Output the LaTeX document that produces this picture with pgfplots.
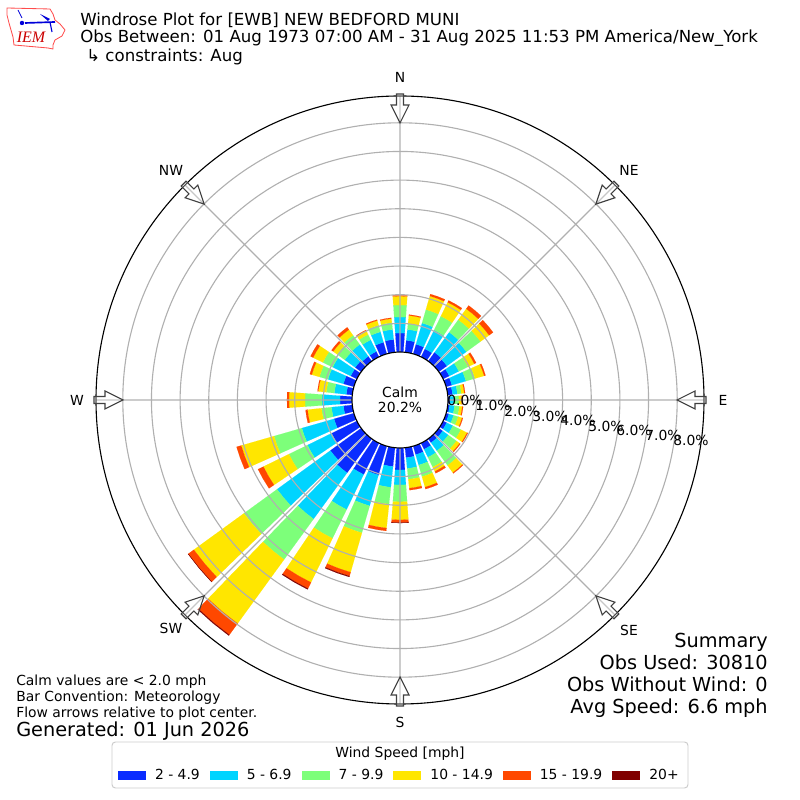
\documentclass[border=0pt]{standalone}
\usepackage{pgfplots}
\usepackage{pgfplotstable}
\usepackage{fontspec}
\pgfplotsset{compat=1.18}
\usepgfplotslibrary{polar}
\setmainfont{DejaVu Sans}
\newfontfamily\logofont{Liberation Serif}
\definecolor{c1}{HTML}{0A2CFF}
\definecolor{c2}{HTML}{00D4FF}
\definecolor{c3}{HTML}{7DFF7A}
\definecolor{c4}{HTML}{FFE600}
\definecolor{c5}{HTML}{FF4800}
\definecolor{c6}{HTML}{800000}
\definecolor{gridgray}{HTML}{B0B0B0}
\pgfplotstableread{
dir s1 s2 s3 s4 s5 s6
10 0.42 0.38 0.21 0.28 0.03 0
20 0.35 0.77 0.49 0.49 0.07 0
30 0.31 0.73 0.54 0.54 0.07 0
40 0.38 0.87 0.54 0.47 0.14 0
50 0.35 0.84 0.61 0.37 0.17 0
60 0.24 0.37 0.36 0.24 0.07 0
70 0.21 0.51 0.33 0.33 0.05 0
80 0.17 0.17 0.14 0.10 0.03 0
90 0.07 0.14 0.17 0.10 0.03 0
100 0.07 0.17 0.17 0.10 0.03 0
110 0.10 0.17 0.17 0.14 0.03 0
120 0.14 0.24 0.31 0.24 0.03 0
130 0.17 0.24 0.35 0.14 0.03 0
140 0.17 0.35 0.63 0.31 0.03 0
150 0.24 0.31 0.38 0.17 0.07 0
160 0.31 0.38 0.42 0.38 0.07 0
170 0.35 0.38 0.38 0.31 0.07 0
180 0.77 0.52 0.59 0.63 0.10 0.01
190 0.66 0.73 0.59 0.84 0.10 0
200 1.05 1.12 0.98 1.43 0.14 0.03
210 1.22 1.36 1.12 1.71 0.24 0.03
220 1.47 1.99 1.75 2.76 0.49 0.03
230 1.33 2.30 1.43 2.16 0.24 0.01
240 0.98 0.94 0.72 0.99 0.21 0
250 0.72 1.17 1.01 1.19 0.17 0
260 0.31 0.42 0.35 0.49 0.07 0
270 0.42 0.63 0.59 0.56 0.07 0
280 0.21 0.42 0.28 0.28 0.03 0
290 0.38 0.56 0.31 0.28 0.07 0
300 0.24 0.70 0.38 0.38 0.10 0
310 0.26 0.45 0.33 0.17 0.07 0
320 0.21 0.51 0.40 0.24 0.10 0
330 0.21 0.45 0.21 0.14 0.03 0
340 0.42 0.38 0.24 0.17 0.03 0
350 0.45 0.35 0.24 0.14 0.03 0
360 0.66 0.56 0.42 0.31 0.03 0
}\windtable
% one stacked wedge: direction, inner and outer radius, colour
\newcommand\windwedge[4]{%
  \pgfmathsetmacro\wa{90-#1-4}%
  \pgfmathsetmacro\wm{90-#1}%
  \pgfmathsetmacro\wb{90-#1+4}%
  \edef\wtemp{\noexpand\addplot[fill=#4,draw=#4,line width=0.05pt,forget plot] coordinates {(\wa,#2)(\wm,#2)(\wb,#2)(\wb,#3)(\wm,#3)(\wa,#3)} -- cycle;}%
  \wtemp}
\newcommand\fs[1]{\fontsize{#1bp}{#1bp}\selectfont}
\newcommand\arrowat[1]{%
  \begin{scope}[shift={(400,400)},rotate=-#1]
    \draw[draw=black!75,line width=0.8bp,fill=white,fill opacity=0.3,line join=miter]
      (-3.5,306)--(3.5,306)--(3.5,295)--(9,295)--(0,277)--(-9,295)--(-3.5,295)--cycle;
  \end{scope}}
\begin{document}
\begin{tikzpicture}[x=0.72bp,y=0.72bp]
\path[use as bounding box] (0,0) rectangle (800,800);
\draw[rounded corners=2.5bp,draw=black!20,line width=0.7bp,fill=white] (112,12) rectangle (688,58);
\begin{polaraxis}[
  at={(288bp,288bp)},anchor=center,
  scale only axis,width=437.76bp,height=437.76bp,
  xmin=0,xmax=360,ymin=0,ymax=10.611,
  xtick={0,45,...,315},xticklabels={},
  ytick={2.6754,3.6754,4.6754,5.6754,6.6754,7.6754,8.6754,9.6754},yticklabels={},
  xmajorgrids,ymajorgrids,
  grid style={gridgray,line width=0.8bp},
  major tick length=0pt,
  axis line style={black,line width=0.8bp},
  y axis line style={draw=none},
  axis on top,clip=false,
  legend cell align=left,
  legend columns=6,
  legend image code/.code={\path[#1,draw=none] (0bp,-3.24bp) rectangle (20.16bp,3.24bp);},
  legend style={at={(0.0362,-0.1168)},anchor=west,draw=none,fill=none,inner sep=0pt,outer sep=0pt,
    font=\fs{10},
    /tikz/every odd column/.append style={column sep=6.5bp},
    /tikz/every even column/.append style={column sep=7.2bp},
    nodes={inner xsep=0pt,inner ysep=0pt}},
]
\pgfplotsforeachungrouped \wrow in {0,...,35}{%
  \pgfplotstablegetelem{\wrow}{dir}\of\windtable
  \let\wdir\pgfplotsretval
  \def\wcum{1.6754}%
  \pgfplotsforeachungrouped \wk in {1,...,6}{%
    \pgfplotstablegetelem{\wrow}{s\wk}\of\windtable
    \let\wval\pgfplotsretval
    \ifdim\wval pt>0pt
      \pgfmathsetmacro\wnext{\wcum+\wval}%
      \windwedge{\wdir}{\wcum}{\wnext}{c\wk}%
      \let\wcum\wnext
    \fi
  }%
}
\addlegendimage{fill=c1}\addlegendentry{2 - 4.9}
\addlegendimage{fill=c2}\addlegendentry{5 - 6.9}
\addlegendimage{fill=c3}\addlegendentry{7 - 9.9}
\addlegendimage{fill=c4}\addlegendentry{10 - 14.9}
\addlegendimage{fill=c5}\addlegendentry{15 - 19.9}
\addlegendimage{fill=c6}\addlegendentry{20+}
\end{polaraxis}
\draw[black,line width=0.8bp,fill=white] (400,400) circle (48);
\foreach \a in {0,45,...,315}{\arrowat{\a}}
% direction labels
\begin{scope}[every node/.style={font=\fs{10},inner sep=0pt}]
\node at (400,723) {N};
\node at (629,630) {NE};
\node at (723,400) {E};
\node at (629,170) {SE};
\node at (400,78) {S};
\node at (171,172) {SW};
\node at (77,400) {W};
\node at (171,630) {NW};
\node at (465,400) {0.0\%};
\node at (493,395) {1.0\%};
\node at (522,389) {2.0\%};
\node at (550,384) {3.0\%};
\node at (578,380) {4.0\%};
\node at (606,374) {5.0\%};
\node at (634,370) {6.0\%};
\node at (663,365) {7.0\%};
\node at (691,360) {8.0\%};
\node[align=center] at (400,400) {Calm\\[1pt]20.2\%};
\end{scope}
% header
\node[anchor=base west,inner sep=0pt,font=\fs{11.96}] at (80,774) {Windrose Plot for [EWB] NEW BEDFORD MUNI};
\node[anchor=base west,inner sep=0pt,font=\fs{11.96}] at (80,757) {Obs Between: 01 Aug 1973 07:00 AM - 31 Aug 2025 11:53 PM America/New\_York};
\node[anchor=base west,inner sep=0pt,font=\fs{11.96}] at (86,738) {↳ constraints: Aug};
% notes
\node[anchor=base west,inner sep=0pt,font=\fs{10}] at (16,114) {Calm values are < 2.0 mph};
\node[anchor=base west,inner sep=0pt,font=\fs{10}] at (16,98) {Bar Convention: Meteorology};
\node[anchor=base west,inner sep=0pt,font=\fs{10}] at (16,82) {Flow arrows relative to plot center.};
\node[anchor=base west,inner sep=0pt,font=\fs{13.9}] at (16,63) {Generated: 01 Jun 2026};
\node[anchor=base east,inner sep=0pt,font=\fs{13.9}] at (768,152) {Summary};
\node[anchor=base east,inner sep=0pt,font=\fs{13.9}] at (768,130) {Obs Used: 30810};
\node[anchor=base east,inner sep=0pt,font=\fs{13.9}] at (768,108) {Obs Without Wind: 0};
\node[anchor=base east,inner sep=0pt,font=\fs{13.9}] at (768,86) {Avg Speed: 6.6 mph};
\node[inner sep=0pt,font=\fs{10}] at (400,46) {Wind Speed [mph]};
% logo
\draw[red!70!white,line width=0.6bp,fill=white]
  (7,792)--(50,791)--(53,786)--(55,780)--(60,776)--(65,770)--(62,764)--(55,760)--(53,755)--(53,751)--(48,752)--(14,755)--(13,763)--(9,777)--(7,785)--cycle;
\draw[blue!85!black,line width=1.2bp] (25,777)--(55,778);
\draw[blue!85!black,line width=0.6bp] (18,790)--(22,782);
\fill[blue!85!black] (22,777) circle (2.2);
\fill[blue!85!black] (40,786)--(50,781)--(48,779)--cycle;
\draw[blue!85!black,line width=0.8bp] (50,778)--(52,768);
\node[inner sep=0pt,text=red!80!black,font=\logofont\itshape\fs{11.5}] at (31,763) {IEM};
\end{tikzpicture}
\end{document}
